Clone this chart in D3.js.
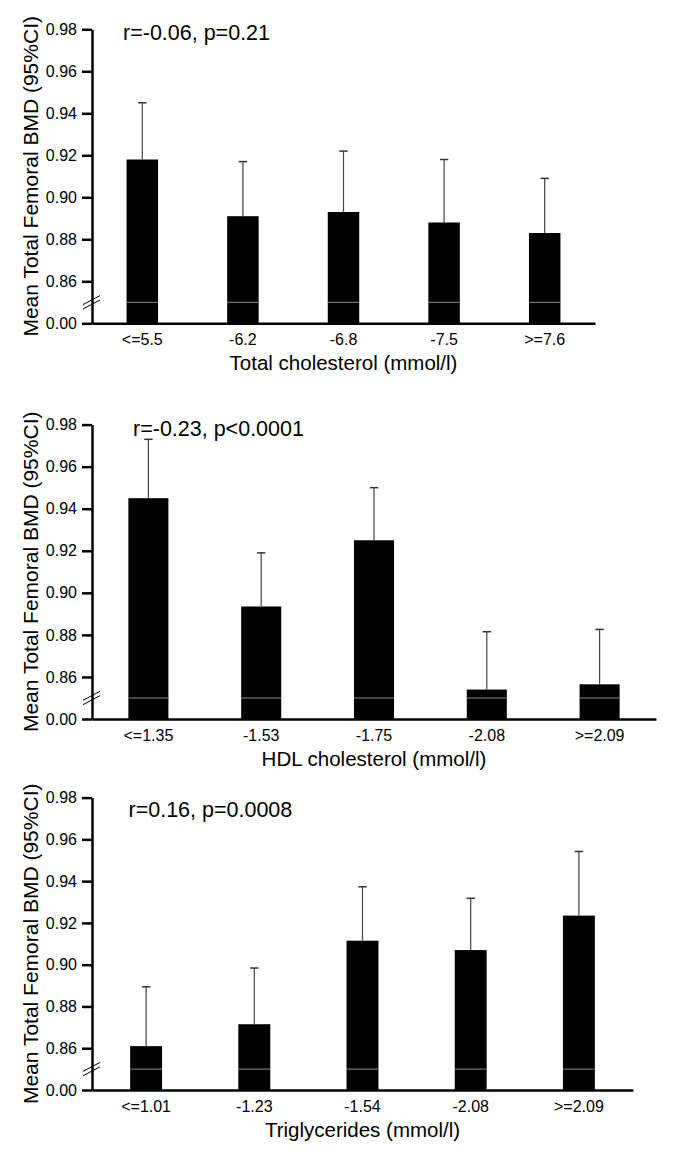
<!DOCTYPE html>
<html>
<head>
<meta charset="utf-8">
<script src="https://cdn.jsdelivr.net/npm/d3@7"></script>
<style>
  html, body { margin: 0; padding: 0; background: #fff; }
  svg { display: block; font-family: "Liberation Sans", Arial, Helvetica, sans-serif; }
</style>
</head>
<body>
<svg id="chart" width="675" height="1162"></svg>
<script>
// ---- data ----
const totalCholCategories = ["<=5.5", "-6.2", "-6.8", "-7.5", ">=7.6"];
const totalCholMeans = [0.918, 0.891, 0.893, 0.888, 0.883];
const totalCholUpper = [0.945, 0.917, 0.922, 0.918, 0.909];

const hdlCategories = ["<=1.35", "-1.53", "-1.75", "-2.08", ">=2.09"];
const hdlMeans = [0.945, 0.8935, 0.925, 0.854, 0.8565];
const hdlUpper = [0.973, 0.919, 0.950, 0.8815, 0.8826];

const trigCategories = ["<=1.01", "-1.23", "-1.54", "-2.08", ">=2.09"];
const trigMeans = [0.861, 0.8715, 0.9115, 0.907, 0.9235];
const trigUpper = [0.8894, 0.8984, 0.9373, 0.9318, 0.9542];

const yTickValues = [0.84, 0.86, 0.88, 0.90, 0.92, 0.94, 0.96, 0.98];
const yTickLabels = ["0.00", "0.86", "0.88", "0.90", "0.92", "0.94", "0.96", "0.98"];
const breakValue = 0.85;

const xTitles = ["Total cholesterol (mmol/l)", "HDL cholesterol (mmol/l)", "Triglycerides (mmol/l)"];
const annotations = ["r=-0.06, p=0.21", "r=-0.23, p<0.0001", "r=0.16, p=0.0008"];
const yTitle = "Mean Total Femoral BMD (95%CI)";

// ---- layout ----
const panels = [
  { cats: totalCholCategories, means: totalCholMeans, upper: totalCholUpper,
    left: 92, right: 595, top: 29.3, bottom: 323.3, padInner: 0.687,
    annX: 123, annY: 40 },
  { cats: hdlCategories, means: hdlMeans, upper: hdlUpper,
    left: 92, right: 656, top: 424.6, bottom: 719, padInner: 0.645,
    annX: 133, annY: 436 },
  { cats: trigCategories, means: trigMeans, upper: trigUpper,
    left: 92, right: 633, top: 797.6, bottom: 1090, padInner: 0.705,
    annX: 128.5, annY: 816.5 }
];

const svg = d3.select("#chart");

panels.forEach((p, i) => {
  const g = svg.append("g");
  const x = d3.scaleBand().domain(p.cats).range([p.left, p.right])
    .paddingInner(p.padInner).paddingOuter(p.padInner / 2);
  const y = d3.scaleLinear().domain([0.84, 0.98]).range([p.bottom, p.top]);

  // bars
  g.selectAll("rect.bar").data(p.cats).enter().append("rect")
    .attr("x", d => x(d))
    .attr("width", x.bandwidth())
    .attr("y", (d, j) => y(p.means[j]))
    .attr("height", (d, j) => y(0.84) - y(p.means[j]))
    .attr("fill", "#000");

  // break line inside bars
  g.selectAll("line.brk").data(p.cats).enter().append("line")
    .attr("x1", d => x(d)).attr("x2", d => x(d) + x.bandwidth())
    .attr("y1", y(breakValue)).attr("y2", y(breakValue))
    .attr("stroke", "#8a8a8a").attr("stroke-width", 1);

  // error bars
  const cx = d => x(d) + x.bandwidth() / 2;
  g.selectAll("line.err").data(p.cats).enter().append("line")
    .attr("x1", cx).attr("x2", cx)
    .attr("y1", (d, j) => y(p.means[j]))
    .attr("y2", (d, j) => y(p.upper[j]))
    .attr("stroke", "#444").attr("stroke-width", 1.2);
  g.selectAll("line.cap").data(p.cats).enter().append("line")
    .attr("x1", d => cx(d) - 4.2).attr("x2", d => cx(d) + 4.2)
    .attr("y1", (d, j) => y(p.upper[j]))
    .attr("y2", (d, j) => y(p.upper[j]))
    .attr("stroke", "#333").attr("stroke-width", 1.5);

  // y axis
  const yAxis = d3.axisLeft(y).tickValues(yTickValues)
    .tickFormat((d, j) => yTickLabels[j]).tickSize(10).tickSizeOuter(0).tickPadding(5);
  const ya = g.append("g").attr("transform", `translate(${p.left},0)`).call(yAxis);
  ya.selectAll("path, line").attr("stroke", "#000").attr("stroke-width", 2.5);
  ya.selectAll("text").attr("font-size", 16).attr("fill", "#000")
    .attr("font-family", '"Liberation Sans", Arial, sans-serif');

  // x axis
  const xAxis = d3.axisBottom(x).tickSize(0).tickSizeOuter(0).tickPadding(10.5);
  const xa = g.append("g").attr("transform", `translate(0,${p.bottom})`).call(xAxis);
  xa.select("path").attr("stroke", "#000").attr("stroke-width", 2.5);
  xa.selectAll("text").attr("font-size", 16).attr("fill", "#000")
    .attr("font-family", '"Liberation Sans", Arial, sans-serif');

  // axis break marks
  const by = y(breakValue);
  [-2.2, 2.2].forEach(off => {
    g.append("line")
      .attr("x1", p.left - 9).attr("y1", by + off + 4.5)
      .attr("x2", p.left + 8).attr("y2", by + off - 4.5)
      .attr("stroke", "#000").attr("stroke-width", 1);
  });

  // x title
  g.append("text")
    .attr("x", (p.left + p.right) / 2).attr("y", p.bottom + 47)
    .attr("text-anchor", "middle").attr("font-size", 20.5).attr("fill", "#000")
    .text(xTitles[i]);

  // y title
  g.append("text")
    .attr("transform", `translate(37.5,${(p.top + p.bottom) / 2}) rotate(-90)`)
    .attr("text-anchor", "middle").attr("font-size", 21).attr("fill", "#000")
    .text(yTitle);

  // annotation
  g.append("text")
    .attr("x", p.annX).attr("y", p.annY)
    .attr("font-size", 21.5).attr("fill", "#000")
    .text(annotations[i]);
});
</script>
</body>
</html>
